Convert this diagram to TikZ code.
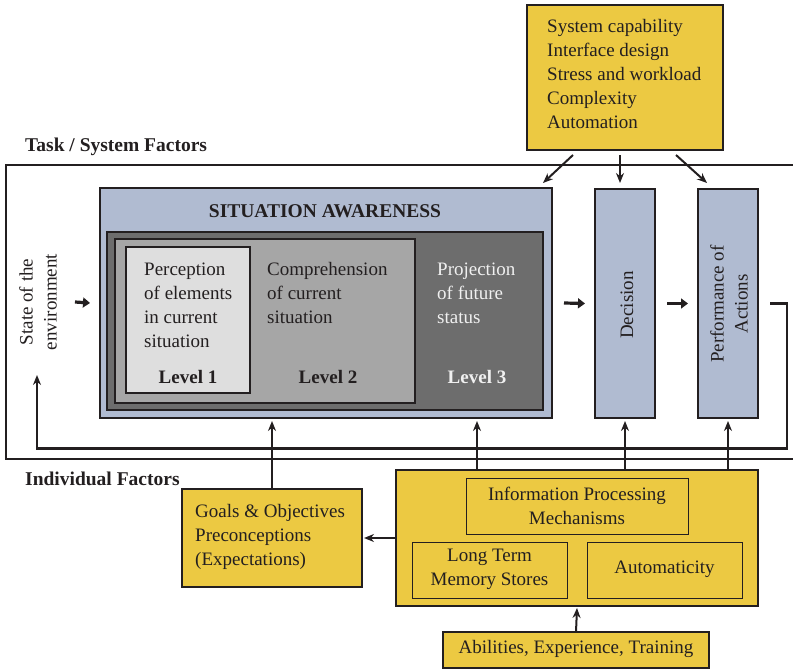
\documentclass[tikz,border=0pt]{standalone}
\usepackage{fontspec}
\setmainfont{Liberation Serif}
\usetikzlibrary{arrows.meta,calc}
\definecolor{ink}{HTML}{231F20}
\definecolor{factorYellow}{HTML}{ECC942}
\definecolor{stageBlue}{HTML}{B0BBD1}
\definecolor{lvOne}{HTML}{DEDEDE}
\definecolor{lvTwo}{HTML}{A6A6A6}
\definecolor{lvThree}{HTML}{6D6D6D}
\begin{document}
\begin{tikzpicture}[x=1pt,y=-1pt,
  box/.style={draw=ink, line width=1.5pt, inner sep=0pt, outer sep=0pt},
  thinbox/.style={draw=ink, line width=1pt, inner sep=0pt, outer sep=0pt},
  txt/.style={text=ink, font=\fontsize{19}{24}\selectfont, inner sep=0pt},
  head/.style={text=ink, font=\bfseries\fontsize{19.5}{22}\selectfont, inner sep=0pt},
  lvl/.style={text=ink, font=\bfseries\fontsize{19}{22}\selectfont, inner sep=0pt},
  arr/.style={draw=ink, line width=2pt, -{Stealth[length=10pt,width=8pt]}},
  fat/.style={draw=ink, line width=3.2pt, -{Triangle[length=7pt,width=10pt]}},
  loopline/.style={draw=ink, line width=2.4pt, -{Stealth[length=10pt,width=8pt]}}]
\useasboundingbox (0,0) rectangle (793,669);

% task / system factor frame (open on the right)
\draw[ink, line width=1.3pt] (800,165) -- (6,165) -- (6,459) -- (800,459);
\node[head, anchor=west] (tsf) at (25,147) {Task / System Factors};
\node[head, anchor=west] (indf) at (25,479) {Individual Factors};

% system factors
\node[box, fill=factorYellow, minimum width=196pt, minimum height=145pt] (sys) at (625,77.5) {};
\node[txt, anchor=west, align=left] (systxt) at (547,74)
  {System capability\\Interface design\\Stress and workload\\Complexity\\Automation};

% situation awareness block
\node[box, fill=stageBlue, minimum width=452pt, minimum height=230pt] (sa) at (326,303) {};
\node[head] (satitle) at (325,211) {SITUATION AWARENESS};
\node[box, fill=lvThree, minimum width=436pt, minimum height=178pt] (l3) at (325,321) {};
\node[box, fill=lvTwo, minimum width=300pt, minimum height=164pt] (l2) at (265,321) {};
\node[box, fill=lvOne, minimum width=124pt, minimum height=146pt] (l1) at (188,320) {};

\node[txt, anchor=west, align=left] (l1txt) at (144,305)
  {Perception\\of elements\\in current\\situation};
\node[txt, anchor=west, align=left] (l2txt) at (267,293)
  {Comprehension\\of current\\situation};
\node[txt, anchor=west, align=left, text=white!94!black] (l3txt) at (437,293)
  {Projection\\of future\\status};
\node[lvl] (l1lab) at (188,377) {Level 1};
\node[lvl] (l2lab) at (328,377) {Level 2};
\node[lvl, text=white!94!black] (l3lab) at (477,377) {Level 3};

% environment, decision, action
\node[txt, rotate=90, align=center] (env) at (38,302) {State of the\\environment};
\node[box, fill=stageBlue, minimum width=60pt, minimum height=229pt] (dec) at (625,303.5) {};
\node[txt, rotate=90] (dectxt) at (627,305) {Decision};
\node[box, fill=stageBlue, minimum width=60pt, minimum height=229pt] (perf) at (728,303.5) {};
\node[txt, rotate=90, align=center] (perftxt) at (729,304) {Performance of\\Actions};

% individual factors
\node[box, fill=factorYellow, minimum width=362pt, minimum height=136pt] (ind) at (577,538) {};
\node[thinbox, minimum width=222pt, minimum height=56pt] (ipm) at (577,506) {};
\node[txt, align=center] (ipmtxt) at (577,506) {Information Processing\\Mechanisms};
\node[thinbox, minimum width=155pt, minimum height=56pt] (ltm) at (489.5,570) {};
\node[txt, align=center] (ltmtxt) at (489.5,569) {Long Term\\Memory Stores};
\node[thinbox, minimum width=155pt, minimum height=56pt] (aut) at (664.5,570) {};
\node[txt] (auttxt) at (664.5,569) {Automaticity};

\node[box, fill=factorYellow, minimum width=180pt, minimum height=98pt] (goals) at (272,538) {};
\node[txt, anchor=west, align=left] (goalstxt) at (195,537)
  {Goals \& Objectives\\Preconceptions\\(Expectations)};

\node[box, fill=factorYellow, minimum width=266pt, minimum height=36pt] (abil) at (576,650) {};
\node[txt] (abiltxt) at (576,649) {Abilities, Experience, Training};

% influences from system factors
\draw[arr] ($(sys.south)+(-52,5)$) -- ($(sa.north east)+(-9,-5)$);
\draw[arr] ($(sys.south)+(-5,5)$) -- ($(dec.north)+(-5,-6)$);
\draw[arr] ($(sys.south)+(51,5)$) -- ($(perf.north)+(-21,-6)$);

% main flow
\draw[fat] ($(env.south)+(18,0)$) -- ($(sa.west)+(-10,0)$);
\draw[fat] ($(sa.east)+(12,0)$) -- ($(dec.west)+(-10,0)$);
\draw[fat] ($(dec.east)+(12,0)$) -- ($(perf.west)+(-10,0)$);

% feedback to the environment
\coordinate (fbend) at (37,375);
\draw[loopline] ($(perf.east)+(12,0)$) -- ++(17,0) -- ++(0,145) -| (fbend);

% influences from individual factors
\draw[arr] (goals.north) -- ($(goals.north |- sa.south)+(0,3)$);
\draw[arr] ($(ind.north)+(-100,0)$) -- ($(sa.south)+(151,3)$);
\draw[arr] (dec.south |- ind.north) -- ($(dec.south)+(0,3)$);
\draw[arr] (perf.south |- ind.north) -- ($(perf.south)+(0,3)$);
\draw[arr] (ind.west |- goals.east) -- ($(goals.east)+(2,0)$);
\draw[arr] (abil.north) -- ($(ind.south)+(0,2)$);
\end{tikzpicture}
\end{document}
